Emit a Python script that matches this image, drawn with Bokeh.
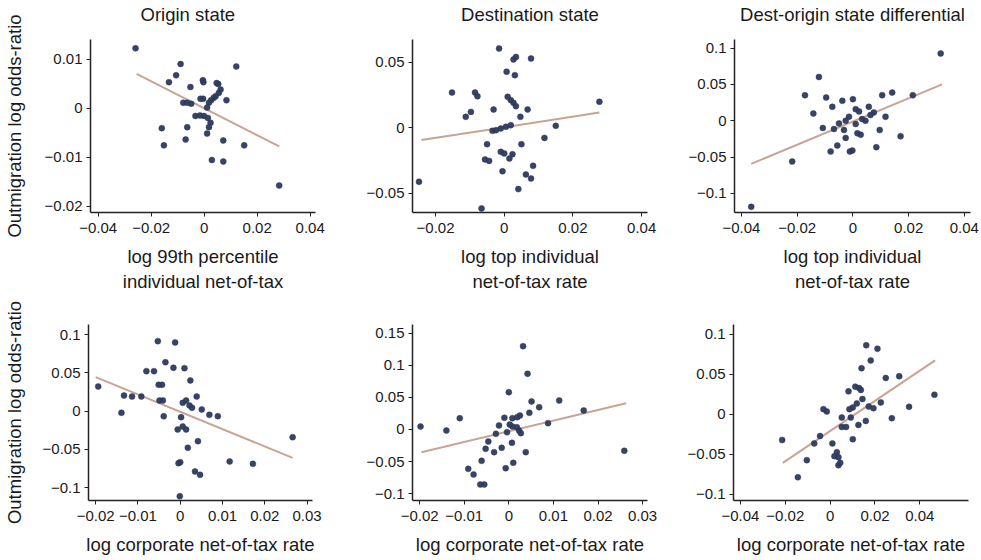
from bokeh.plotting import figure
from bokeh.layouts import column, row
from bokeh.models import FixedTicker, CustomJSTickFormatter, Range1d, Title
from bokeh.embed import file_html
from bokeh.resources import INLINE

# ---------------- data ----------------
titles = ["Origin state", "Destination state", "Dest-origin state differential"]
ylabel = "Outmigration log odds-ratio"
xlabels = ["log 99th percentile", "log top individual", "log top individual",
           "log corporate net-of-tax rate", "log corporate net-of-tax rate",
           "log corporate net-of-tax rate"]
xlabels2 = ["individual net-of-tax", "net-of-tax rate", "net-of-tax rate"]

# Panel 1: origin state, individual
p1_x = [-0.0259, -0.0089, 0.0121, -0.0106, -0.0133, -0.0052, -0.0005, -0.0003, 0.0047, 0.0053,
        0.0062, 0.0055, 0.0043, 0.0036, 0.0026, -0.0004, -0.0014, 0.0084, -0.0079, -0.0064,
        -0.0049, 0.0018, 0.0011, -0.0033, -0.0016, -0.0001, 0.0014, 0.0024, 0.0018, -0.0064,
        -0.0160, 0.0011, -0.0070, 0.0072, -0.0152, 0.0151, 0.0029, 0.0072, 0.0283]
p1_y = [0.0122, 0.0090, 0.0085, 0.0067, 0.0053, 0.0043, 0.0057, 0.0053, 0.0051, 0.0049,
        0.0038, 0.0031, 0.0024, 0.0021, 0.0016, 0.0019, 0.0019, 0.0016, 0.0011, 0.0011,
        0.0009, 0.0011, 0.0001, -0.0016, -0.0015, -0.0016, -0.0020, -0.0030, -0.0039, -0.0039,
        -0.0041, -0.0052, -0.0064, -0.0066, -0.0076, -0.0076, -0.0106, -0.0109, -0.0158]
p1_fit_x = [-0.0255, 0.0283]
p1_fit_y = [0.0070, -0.0078]

# Panel 2: destination state, individual
p2_x = [-0.0015, 0.0034, 0.0027, 0.0078, 0.0007, 0.0031, -0.0152, -0.0085, -0.0078, 0.0010,
        0.0019, 0.0027, 0.0034, -0.0031, 0.0068, 0.0277, -0.0097, -0.0112, 0.0047, 0.0019,
        0.0005, -0.0010, -0.0024, -0.0034, 0.0150, 0.0117, -0.0050, 0.0050, -0.0010, 0.0000,
        0.0024, 0.0015, -0.0056, -0.0044, 0.0084, -0.0005, 0.0063, 0.0078, -0.0248, 0.0041,
        -0.0066]
p2_y = [0.0607, 0.0543, 0.0523, 0.0531, 0.0429, 0.0403, 0.0270, 0.0270, 0.0242, 0.0237,
        0.0212, 0.0191, 0.0166, 0.0140, 0.0140, 0.0199, 0.0122, 0.0084, 0.0084, 0.0020,
        0.0008, -0.0005, -0.0018, -0.0023, 0.0015, -0.0077, -0.0125, -0.0125, -0.0184, -0.0196,
        -0.0202, -0.0235, -0.0242, -0.0253, -0.0291, -0.0332, -0.0357, -0.0388, -0.0413, -0.0469,
        -0.0617]
p2_fit_x = [-0.0241, 0.0277]
p2_fit_y = [-0.0094, 0.0117]

# Panel 3: dest-origin differential, individual
p3_x = [0.0315, -0.0122, -0.0172, -0.0096, -0.0038, 0.0000, 0.0105, 0.0141, 0.0215, -0.0074,
        0.0057, 0.0010, 0.0022, -0.0142, 0.0075, 0.0063, 0.0117, -0.0014, -0.0026, 0.0033,
        0.0045, -0.0050, 0.0010, -0.0108, -0.0068, -0.0032, 0.0096, 0.0016, 0.0028, -0.0026,
        0.0171, -0.0056, 0.0084, -0.0080, -0.0011, -0.0002, -0.0218, -0.0365]
p3_y = [0.0927, 0.0603, 0.0352, 0.0320, 0.0274, 0.0297, 0.0352, 0.0388, 0.0352, 0.0192,
        0.0192, 0.0160, 0.0128, 0.0100, 0.0114, 0.0078, 0.0055, 0.0055, 0.0000, 0.0023,
        0.0000, -0.0037, -0.0046, -0.0100, -0.0114, -0.0128, -0.0128, -0.0174, -0.0192, -0.0237,
        -0.0215, -0.0342, -0.0365, -0.0425, -0.0425, -0.0411, -0.0562, -0.1187]
p3_fit_x = [-0.0365, 0.0320]
p3_fit_y = [-0.0594, 0.0502]

# Panel 4: origin state, corporate
p4_x = [-0.0053, -0.0012, -0.0035, -0.0016, 0.0010, -0.0080, -0.0062, 0.0024, -0.0051, -0.0043,
        -0.0194, -0.0133, -0.0114, -0.0092, 0.0039, -0.0049, -0.0041, 0.0014, 0.0006, 0.0022,
        0.0028, 0.0051, -0.0139, 0.0069, 0.0089, -0.0039, 0.0002, 0.0006, -0.0006, 0.0014,
        0.0042, 0.0018, 0.0266, 0.0117, 0.0172, 0.0000, -0.0004, 0.0035, 0.0047, -0.0001]
p4_y = [0.0917, 0.0900, 0.0642, 0.0568, 0.0563, 0.0524, 0.0524, 0.0402, 0.0345, 0.0345,
        0.0323, 0.0205, 0.0192, 0.0192, 0.0192, 0.0140, 0.0140, 0.0140, 0.0109, 0.0074,
        0.0044, 0.0022, -0.0022, -0.0048, -0.0066, -0.0066, -0.0079, -0.0201, -0.0240, -0.0240,
        -0.0393, -0.0480, -0.0341, -0.0659, -0.0690, -0.0668, -0.0681, -0.0790, -0.0834, -0.1114]
p4_fit_x = [-0.0200, 0.0266]
p4_fit_y = [0.0445, -0.0611]

# Panel 5: destination state, corporate
p5_x = [0.0032, 0.0042, 0.0000, 0.0051, 0.0113, 0.0068, 0.0168, 0.0046, -0.0110, -0.0010,
        0.0008, 0.0019, 0.0025, 0.0088, -0.0198, -0.0022, 0.0002, 0.0008, 0.0018, -0.0140,
        0.0023, 0.0027, -0.0029, -0.0004, -0.0046, 0.0007, -0.0016, -0.0052, -0.0033, 0.0038,
        0.0259, -0.0061, 0.0010, -0.0007, -0.0091, -0.0079, -0.0064, -0.0055]
p5_y = [0.1302, 0.0870, 0.0583, 0.0438, 0.0453, 0.0349, 0.0297, 0.0260, 0.0177, 0.0182,
        0.0177, 0.0193, 0.0219, 0.0099, 0.0047, 0.0063, 0.0078, 0.0047, 0.0036, -0.0016,
        -0.0016, -0.0057, -0.0068, -0.0042, -0.0188, -0.0208, -0.0286, -0.0302, -0.0354, -0.0354,
        -0.0333, -0.0490, -0.0521, -0.0604, -0.0615, -0.0703, -0.0859, -0.0859]
p5_fit_x = [-0.0196, 0.0263]
p5_fit_y = [-0.0354, 0.0411]

# Panel 6: dest-origin differential, corporate
p6_x = [0.0161, 0.0211, 0.0181, 0.0140, 0.0248, 0.0308, 0.0465, 0.0112, 0.0129, 0.0137,
        0.0082, 0.0144, 0.0119, 0.0226, 0.0172, 0.0193, 0.0352, 0.0101, 0.0086, -0.0030,
        -0.0015, 0.0052, 0.0092, 0.0275, 0.0159, 0.0126, 0.0052, 0.0071, -0.0045, -0.0071,
        0.0010, 0.0101, -0.0214, 0.0019, 0.0030, 0.0037, 0.0037, 0.0045, -0.0104, -0.0144]
p6_y = [0.0860, 0.0818, 0.0671, 0.0574, 0.0453, 0.0474, 0.0243, 0.0344, 0.0327, 0.0302,
        0.0285, 0.0189, 0.0134, 0.0147, 0.0096, 0.0075, 0.0092, 0.0084, 0.0063, 0.0063,
        0.0034, -0.0042, -0.0042, -0.0050, -0.0084, -0.0134, -0.0159, -0.0159, -0.0273, -0.0365,
        -0.0365, -0.0314, -0.0323, -0.0524, -0.0474, -0.0537, -0.0637, -0.0608, -0.0574, -0.0788]
p6_fit_x = [-0.0211, 0.0468]
p6_fit_y = [-0.0608, 0.0671]

xs = [p1_x, p2_x, p3_x, p4_x, p5_x, p6_x]
ys = [p1_y, p2_y, p3_y, p4_y, p5_y, p6_y]
fxs = [p1_fit_x, p2_fit_x, p3_fit_x, p4_fit_x, p5_fit_x, p6_fit_x]
fys = [p1_fit_y, p2_fit_y, p3_fit_y, p4_fit_y, p5_fit_y, p6_fit_y]

x_ticks = [[-0.04, -0.02, 0, 0.02, 0.04],
           [-0.02, 0, 0.02, 0.04],
           [-0.04, -0.02, 0, 0.02, 0.04],
           [-0.02, -0.01, 0, 0.01, 0.02, 0.03],
           [-0.02, -0.01, 0, 0.01, 0.02, 0.03],
           [-0.04, -0.02, 0, 0.02, 0.04]]
y_ticks = [[-0.02, -0.01, 0, 0.01],
           [-0.05, 0, 0.05],
           [-0.1, -0.05, 0, 0.05, 0.1],
           [-0.1, -0.05, 0, 0.05, 0.1],
           [-0.1, -0.05, 0, 0.05, 0.1, 0.15],
           [-0.1, -0.05, 0, 0.05, 0.1]]
x_ranges = [(-0.0429, 0.0420), (-0.0267, 0.0417), (-0.0425, 0.0422),
            (-0.0217, 0.0313), (-0.0216, 0.0311), (-0.0431, 0.0617)]
y_ranges = [(-0.0213, 0.0140), (-0.0648, 0.0676), (-0.1265, 0.1120),
            (-0.1170, 0.1135), (-0.1109, 0.1640), (-0.1078, 0.1120)]

# ---------------- layout (page pixel geometry) ----------------
# (fig_left, frame_left, frame_right, fig_right) and (fig_top, frame_top, frame_bottom, fig_bottom)
hgeo = [(0, 90, 315, 330), (330, 412, 647, 657), (657, 734, 970, 980),
        (0, 87, 312, 330), (330, 412, 647, 657), (657, 733, 968, 980)]
vgeo = [(0, 38, 212, 300)] * 3 + [(300, 324, 500, 559)] * 3

FONT = "Liberation Sans"
DOT = "#2d3a5c"
LINE = "#c9a393"
TXT = "#1a1a1a"

fmt = CustomJSTickFormatter(code="""
const v = Math.round(tick * 10000) / 10000;
let s = v.toString();
if (v === 0) s = "0";
return s.replace('-', '\u2212');
""")

figs = []
for i in range(6):
    fl, frl, frr, fr = hgeo[i]
    ft, frt, frb, fb = vgeo[i]
    p = figure(width=fr - fl, height=fb - ft,
               x_range=Range1d(*x_ranges[i]), y_range=Range1d(*y_ranges[i]),
               output_backend="svg", toolbar_location=None,
               min_border_left=frl - fl, min_border_right=fr - frr,
               min_border_top=frt - ft, min_border_bottom=fb - frb)
    p.outline_line_color = None
    p.background_fill_color = "white"
    p.border_fill_color = "white"
    p.grid.visible = False

    p.line(fxs[i], fys[i], line_color=LINE, line_width=2)
    p.scatter(xs[i], ys[i], size=6, fill_color=DOT, line_color=DOT,
              line_alpha=0.45, line_width=1, fill_alpha=0.95)

    for ax, ticks in ((p.xaxis[0], x_ticks[i]), (p.yaxis[0], y_ticks[i])):
        ax.ticker = FixedTicker(ticks=ticks)
        ax.formatter = fmt
        ax.minor_tick_line_color = None
        ax.major_tick_in = 0
        ax.major_tick_out = 4
        ax.major_tick_line_width = 1
        ax.major_tick_line_color = "#222222"
        ax.axis_line_color = "#222222"
        ax.axis_line_width = 1.5
        ax.major_label_text_font = FONT
        ax.major_label_text_font_size = "15px"
        ax.major_label_text_color = TXT
        ax.axis_label_text_font = FONT
        ax.axis_label_text_font_size = "18.5px"
        ax.axis_label_text_font_style = "normal"
        ax.axis_label_text_color = TXT
    p.yaxis[0].major_label_standoff = 4
    p.xaxis[0].major_label_standoff = 6
    p.yaxis[0].major_label_orientation = "horizontal"

    p.xaxis[0].axis_label = xlabels[i]
    p.xaxis[0].axis_label_standoff = 10
    if i < 3:
        p.add_layout(Title(text=xlabels2[i], text_font=FONT, text_font_size="18.5px",
                           text_font_style="normal", text_color=TXT,
                           align="center", vertical_align="top", standoff=2), "below")
    if i % 3 == 0:
        p.yaxis[0].axis_label = ylabel
        p.yaxis[0].axis_label_standoff = 17 if i == 0 else 15

    if i < 3:
        # thin spacer between frame and title, so the title sits higher
        p.add_layout(Title(text=" ", text_font_size="1px", standoff=7,
                           text_color="white"), "above")
        t = Title(text=titles[i], text_font=FONT, text_font_size="18.5px",
                  text_font_style="normal", text_color=TXT,
                  align="center", vertical_align="top", standoff=6)
        if i == 0:
            t.align = "left"
            t.offset = 50
        p.add_layout(t, "above")
    figs.append(p)

layout = column(row(figs[0], figs[1], figs[2]), row(figs[3], figs[4], figs[5]))
open("out.html", "w").write(file_html(layout, INLINE))
